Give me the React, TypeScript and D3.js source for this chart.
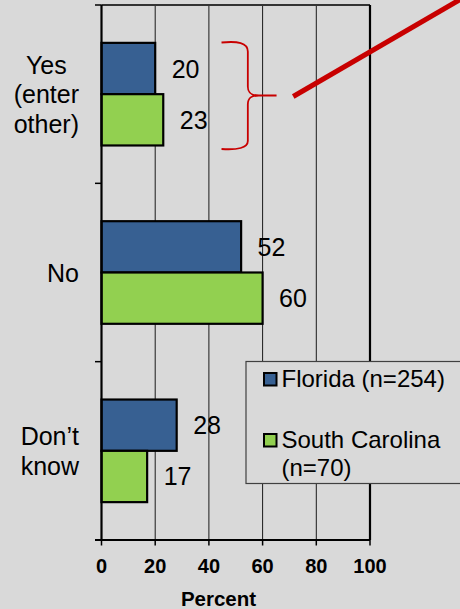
import React from "react";
import * as d3 from "d3";

const categories = ["Yes\n(enter\nother)", "No", "Don\u2019t\nknow"];
const seriesNames = ["Florida (n=254)", "South Carolina\n(n=70)"];
const florida = [20, 52, 28];
const southCarolina = [23, 60, 17];
const xTicks = [0, 20, 40, 60, 80, 100];
const xTitle = "Percent";

const W = 460;
const H = 609;
const FONT = "'Liberation Sans', Arial, Helvetica, sans-serif";
const BG = "#d9d9d9";
const BLUE = "#376092";
const GREEN = "#92d050";
const RED = "#c80000";

function measure(text: string, font: string): number {
  const c = document.createElement("canvas");
  const ctx = c.getContext("2d");
  if (!ctx) return text.length * 12;
  ctx.font = font;
  return ctx.measureText(text).width;
}

export default function App() {
  const left = 101.5;
  const right = 370;
  const top = 5;
  const bottom = 540;

  const x = d3.scaleLinear().domain([0, 100]).range([left, right]);
  const y = d3.scaleBand<string>().domain(categories).range([top, bottom]).padding(0);
  const inner = d3
    .scaleBand<number>()
    .domain([0, 1])
    .range([0, y.bandwidth()])
    .paddingInner(0)
    .paddingOuter(0.738);

  const series = [
    { name: seriesNames[0], values: florida, color: BLUE },
    { name: seriesNames[1], values: southCarolina, color: GREEN },
  ];

  const catFont = `25px ${FONT}`;
  const labelRight = 79;
  const lineH = 29.5;

  const boundaries = [...categories.map((c) => y(c) as number), bottom];

  // annotation in data coordinates
  const bx0 = x(44.7);
  const bx1 = x(54.5);
  const bx2 = x(65.2);
  const bTop = 42.5;
  const bMid = 95.5;
  const bBot = 149;
  const bracket = `M${bx0},${bTop} C${bx0 + 16},${bTop - 1.5} ${bx1},${bTop} ${bx1},${bTop + 9} L${bx1},${bMid - 9} C${bx1},${bMid - 2} ${bx1 + 4},${bMid} ${bx1 + 11},${bMid} L${bx2},${bMid} M${bx1 + 11},${bMid} C${bx1 + 4},${bMid} ${bx1},${bMid + 2} ${bx1},${bMid + 9} L${bx1},${bBot - 8} C${bx1},${bBot - 1} ${bx0 + 16},${bBot + 1} ${bx0},${bBot}`;

  return (
    <svg
      width={W}
      height={H}
      style={{ position: "absolute", left: 0, top: 0, display: "block" }}
      fontFamily={FONT}
    >
      <rect x={0} y={0} width={W} height={H} fill={BG} />

      {/* gridlines */}
      {xTicks.slice(1, -1).map((t) => (
        <line key={t} x1={x(t)} x2={x(t)} y1={top} y2={bottom} stroke="#1a1a1a" strokeWidth={1} />
      ))}

      {/* plot frame */}
      <line x1={left} x2={right} y1={top} y2={top} stroke="#333" strokeWidth={2} />
      <line x1={right} x2={right} y1={top} y2={bottom} stroke="#000" strokeWidth={2.2} />

      {/* bars */}
      {categories.map((c, ci) =>
        series.map((s, si) => {
          const y0 = (y(c) as number) + (inner(si) as number);
          return (
            <rect
              key={`${ci}-${si}`}
              x={x(0)}
              y={y0}
              width={x(s.values[ci]) - x(0)}
              height={inner.bandwidth()}
              fill={s.color}
              stroke="#000"
              strokeWidth={2.2}
            />
          );
        })
      )}

      {/* value labels */}
      {categories.map((c, ci) =>
        series.map((s, si) => {
          const yc = (y(c) as number) + (inner(si) as number) + inner.bandwidth() / 2;
          return (
            <text key={`v${ci}-${si}`} x={x(s.values[ci]) + 16.5} y={yc + 9} fontSize={25} fill="#000">
              {s.values[ci]}
            </text>
          );
        })
      )}

      {/* axes */}
      <line x1={left} x2={left} y1={top} y2={bottom} stroke="#000" strokeWidth={2.2} />
      <line x1={left - 6.5} x2={right} y1={bottom} y2={bottom} stroke="#000" strokeWidth={2.2} />
      {boundaries.map((b, i) => (
        <line key={`yt${i}`} x1={left - 6.5} x2={left} y1={b} y2={b} stroke="#000" strokeWidth={1.5} />
      ))}
      {xTicks.map((t) => (
        <g key={`xt${t}`}>
          <line x1={x(t)} x2={x(t)} y1={bottom} y2={bottom + 5.5} stroke="#000" strokeWidth={1.5} />
          <text x={x(t)} y={572.5} textAnchor="middle" fontSize={20} fontWeight="bold" fill="#000">
            {t}
          </text>
        </g>
      ))}
      <text x={218.5} y={605.5} textAnchor="middle" fontSize={20.5} fontWeight="bold" fill="#000">
        {xTitle}
      </text>

      {/* category labels */}
      {categories.map((c) => {
        const lines = c.split("\n");
        const maxW = Math.max(...lines.map((l) => measure(l, catFont)));
        const cx = labelRight - maxW / 2;
        const yc = (y(c) as number) + y.bandwidth() / 2;
        return (
          <text key={c} textAnchor="middle" fontSize={25} fill="#000">
            {lines.map((l, i) => (
              <tspan key={i} x={cx} y={yc + 9 + (i - (lines.length - 1) / 2) * lineH}>
                {l}
              </tspan>
            ))}
          </text>
        );
      })}

      {/* legend */}
      <g>
        <rect x={246} y={361.5} width={220} height={122} fill={BG} stroke="#404040" strokeWidth={1.2} />
        {series.map((s, si) => {
          const ly = si === 0 ? 379 : 440;
          const lines = s.name.split("\n");
          return (
            <g key={`lg${si}`}>
              <rect x={264} y={ly - 6} width={12.5} height={12.5} fill={s.color} stroke="#000" strokeWidth={2} />
              <text fontSize={24} fill="#000">
                {lines.map((l, i) => (
                  <tspan key={i} x={281.5} y={ly + 8 + i * 28}>
                    {l}
                  </tspan>
                ))}
              </text>
            </g>
          );
        })}
      </g>

      {/* annotation */}
      <path d={bracket} fill="none" stroke={RED} strokeWidth={1.8} />
      <line x1={x(71.4)} y1={96.5} x2={x(134.5)} y2={-2} stroke={RED} strokeWidth={5} />
    </svg>
  );
}
